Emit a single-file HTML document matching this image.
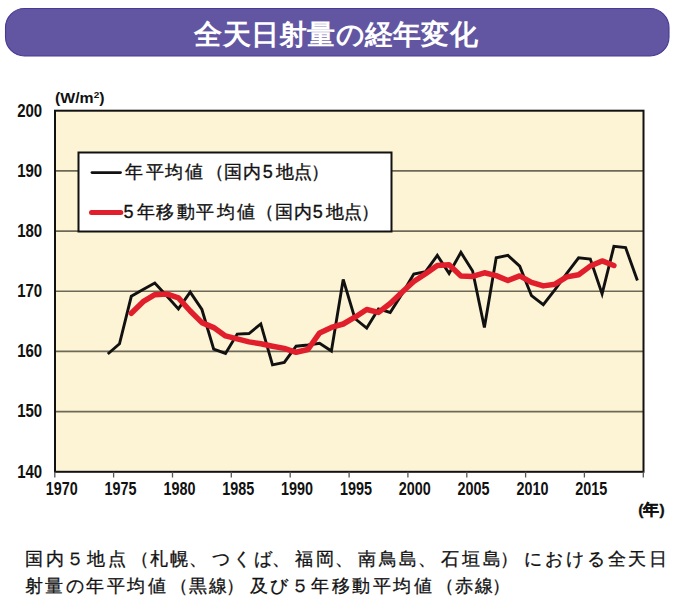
<!DOCTYPE html>
<html><head><meta charset="utf-8"><style>
html,body{margin:0;padding:0;background:#fff;width:676px;height:603px;overflow:hidden}
svg{display:block}
text{font-family:"Liberation Sans",sans-serif}
.num{font-weight:bold;fill:#111}
</style></head><body>
<svg width="676" height="603" viewBox="0 0 676 603">
<rect x="5.5" y="8.5" width="663.5" height="47.5" rx="19" ry="19" fill="#6256a2" stroke="#463a96" stroke-width="1.1"/>
<text x="336" y="43.5" text-anchor="middle" fill="#fff" font-size="28" font-weight="bold" letter-spacing="0.25">全天日射量の経年変化</text>
<text x="55" y="102.5" font-size="15" font-weight="bold" fill="#111" textLength="49.5" lengthAdjust="spacingAndGlyphs">(W/m<tspan font-size="9.5" dy="-5">2</tspan><tspan dy="5">)</tspan></text>
<rect x="55" y="111" width="588" height="360" fill="#fdf4d6"/>
<line x1="55" y1="170.9" x2="643" y2="170.9" stroke="#6e6856" stroke-width="1.6"/><line x1="55" y1="231.1" x2="643" y2="231.1" stroke="#6e6856" stroke-width="1.6"/><line x1="55" y1="291.2" x2="643" y2="291.2" stroke="#6e6856" stroke-width="1.6"/><line x1="55" y1="351.4" x2="643" y2="351.4" stroke="#6e6856" stroke-width="1.6"/><line x1="55" y1="411.6" x2="643" y2="411.6" stroke="#6e6856" stroke-width="1.6"/>
<rect x="55" y="110.7" width="588.5" height="361.1" fill="none" stroke="#111" stroke-width="2"/>
<line x1="54.8" y1="471.8" x2="54.8" y2="477.5" stroke="#555" stroke-width="1.3"/><line x1="113.6" y1="471.8" x2="113.6" y2="477.5" stroke="#555" stroke-width="1.3"/><line x1="172.5" y1="471.8" x2="172.5" y2="477.5" stroke="#555" stroke-width="1.3"/><line x1="231.3" y1="471.8" x2="231.3" y2="477.5" stroke="#555" stroke-width="1.3"/><line x1="290.2" y1="471.8" x2="290.2" y2="477.5" stroke="#555" stroke-width="1.3"/><line x1="349.1" y1="471.8" x2="349.1" y2="477.5" stroke="#555" stroke-width="1.3"/><line x1="407.9" y1="471.8" x2="407.9" y2="477.5" stroke="#555" stroke-width="1.3"/><line x1="466.8" y1="471.8" x2="466.8" y2="477.5" stroke="#555" stroke-width="1.3"/><line x1="525.6" y1="471.8" x2="525.6" y2="477.5" stroke="#555" stroke-width="1.3"/><line x1="584.4" y1="471.8" x2="584.4" y2="477.5" stroke="#555" stroke-width="1.3"/><line x1="643.3" y1="471.8" x2="643.3" y2="477.5" stroke="#555" stroke-width="1.3"/>
<text x="42.2" y="116.8" text-anchor="end" class="num" font-size="18.5" textLength="25" lengthAdjust="spacingAndGlyphs">200</text><text x="42.2" y="176.9" text-anchor="end" class="num" font-size="18.5" textLength="25" lengthAdjust="spacingAndGlyphs">190</text><text x="42.2" y="237.0" text-anchor="end" class="num" font-size="18.5" textLength="25" lengthAdjust="spacingAndGlyphs">180</text><text x="42.2" y="297.2" text-anchor="end" class="num" font-size="18.5" textLength="25" lengthAdjust="spacingAndGlyphs">170</text><text x="42.2" y="357.3" text-anchor="end" class="num" font-size="18.5" textLength="25" lengthAdjust="spacingAndGlyphs">160</text><text x="42.2" y="417.4" text-anchor="end" class="num" font-size="18.5" textLength="25" lengthAdjust="spacingAndGlyphs">150</text><text x="42.2" y="477.5" text-anchor="end" class="num" font-size="18.5" textLength="25" lengthAdjust="spacingAndGlyphs">140</text>
<text x="61.7" y="495.2" text-anchor="middle" class="num" font-size="18" textLength="32" lengthAdjust="spacingAndGlyphs">1970</text><text x="120.5" y="495.2" text-anchor="middle" class="num" font-size="18" textLength="32" lengthAdjust="spacingAndGlyphs">1975</text><text x="179.4" y="495.2" text-anchor="middle" class="num" font-size="18" textLength="32" lengthAdjust="spacingAndGlyphs">1980</text><text x="238.2" y="495.2" text-anchor="middle" class="num" font-size="18" textLength="32" lengthAdjust="spacingAndGlyphs">1985</text><text x="297.1" y="495.2" text-anchor="middle" class="num" font-size="18" textLength="32" lengthAdjust="spacingAndGlyphs">1990</text><text x="355.9" y="495.2" text-anchor="middle" class="num" font-size="18" textLength="32" lengthAdjust="spacingAndGlyphs">1995</text><text x="414.8" y="495.2" text-anchor="middle" class="num" font-size="18" textLength="32" lengthAdjust="spacingAndGlyphs">2000</text><text x="473.6" y="495.2" text-anchor="middle" class="num" font-size="18" textLength="32" lengthAdjust="spacingAndGlyphs">2005</text><text x="532.5" y="495.2" text-anchor="middle" class="num" font-size="18" textLength="32" lengthAdjust="spacingAndGlyphs">2010</text><text x="591.3" y="495.2" text-anchor="middle" class="num" font-size="18" textLength="32" lengthAdjust="spacingAndGlyphs">2015</text>
<text x="651.4" y="515" text-anchor="middle" font-size="15.5" font-weight="bold" fill="#111" stroke="#111" stroke-width="0.3">(年)</text>
<polyline points="107.8,354.0 119.5,343.8 131.3,296.3 143.1,289.6 154.8,283.0 166.6,295.7 178.4,308.9 190.2,292.1 201.9,309.5 213.7,349.2 225.5,353.4 237.2,334.1 249.0,333.5 260.8,323.9 272.5,364.8 284.3,362.4 296.1,346.2 307.9,345.0 319.6,343.2 331.4,351.0 343.2,279.4 354.9,318.5 366.7,328.1 378.5,308.9 390.2,312.5 402.0,293.9 413.8,274.0 425.6,271.6 437.3,255.4 449.1,273.4 460.9,252.4 472.6,271.0 484.4,327.5 496.2,257.8 507.9,255.4 519.7,266.2 531.5,295.7 543.3,304.7 555.0,289.6 566.8,273.4 578.6,257.8 590.3,259.0 602.1,293.9 613.9,246.4 625.6,247.6 637.4,280.6" fill="none" stroke="#111" stroke-width="2.9" stroke-linejoin="miter"/>
<polyline points="131.3,313.3 143.1,301.7 154.8,294.7 166.6,293.9 178.4,297.8 190.2,311.0 201.9,322.6 213.7,327.6 225.5,335.9 237.2,338.8 249.0,341.9 260.8,343.8 272.5,346.2 284.3,348.4 296.1,352.3 307.9,349.5 319.6,332.9 331.4,327.4 343.2,324.0 354.9,317.2 366.7,309.5 378.5,312.4 390.2,303.5 402.0,292.2 413.8,281.5 425.6,273.7 437.3,265.4 449.1,264.8 460.9,275.9 472.6,276.4 484.4,272.8 496.2,275.6 507.9,280.5 519.7,275.9 531.5,282.3 543.3,285.9 555.0,284.2 566.8,276.9 578.6,274.7 590.3,266.1 602.1,260.9 613.9,265.5" fill="none" stroke="#e11e2c" stroke-width="5.5" stroke-linejoin="round" stroke-linecap="round"/>
<rect x="78.5" y="152.5" width="313" height="79" fill="#fff" stroke="#111" stroke-width="2"/>
<line x1="92" y1="172.6" x2="120.5" y2="172.6" stroke="#111" stroke-width="2.9" stroke-linecap="round"/>
<line x1="91.5" y1="212.4" x2="120.8" y2="212.4" stroke="#e11e2c" stroke-width="5" stroke-linecap="round"/>
<text x="125.3 145.7 165.3 184.8 206.4 223.8 243.3 262.8 276.0 293.7 311.3" y="177.5" font-size="18" fill="#111" stroke="#111" stroke-width="0.35" letter-spacing="1.8">年平均値（国内5地点）</text>
<text x="123.4 136.9 156.4 176.8 196.3 216.8 236.5 256.4 274.6 294.1 312.8 326.0 344.2 361.3" y="217.5" font-size="18" fill="#111" stroke="#111" stroke-width="0.35" letter-spacing="1.8">5年移動平均値（国内5地点）</text>
<text x="24.7 45.5 66.4 87.2 108.0 130.9 149.6 170.4 188.8 212.1 232.9 253.7 272.0 295.3 316.2 334.5 357.8 378.6 399.4 417.7 441.1 461.9 482.7 500.1 524.3 545.1 566.0 586.8 607.6 628.4 649.2" y="565" font-size="18" fill="#111" stroke="#111" stroke-width="0.3" letter-spacing="2.75">国内５地点（札幌、つくば、福岡、南鳥島、石垣島）における全天日</text>
<text x="24.7 45.2 65.7 86.1 106.6 127.1 147.6 170.1 188.5 209.0 226.0 249.9 270.4 290.9 311.3 331.8 352.3 372.8 393.2 413.7 436.3 454.7 475.1 492.2" y="591.5" font-size="18" fill="#111" stroke="#111" stroke-width="0.3" letter-spacing="2.75">射量の年平均値（黒線）及び５年移動平均値（赤線）</text>
</svg>
</body></html>
